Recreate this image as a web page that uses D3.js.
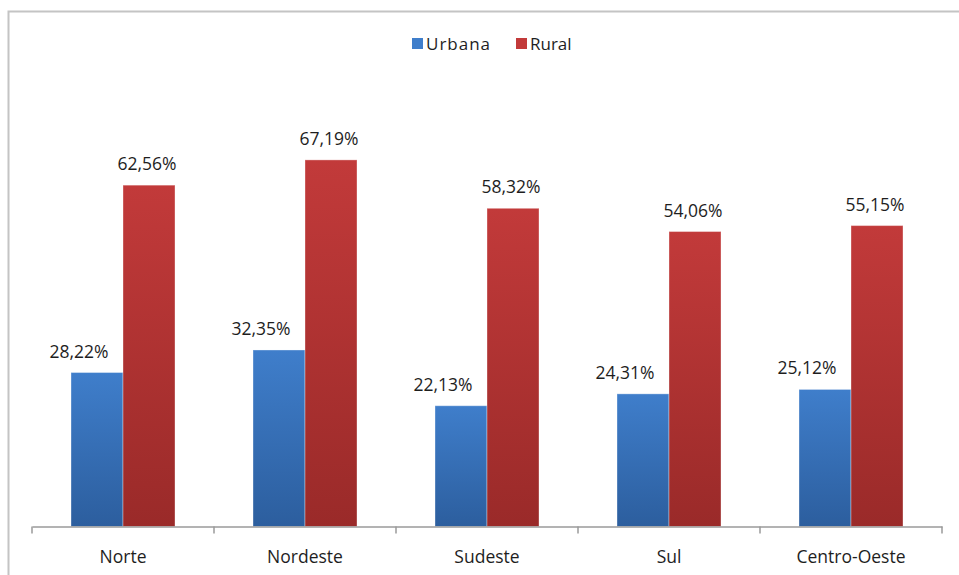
<!DOCTYPE html>
<html>
<head>
<meta charset="utf-8">
<script src="https://cdn.jsdelivr.net/npm/d3@7/dist/d3.min.js"></script>
<style>
  body { margin: 0; background: #fff; }
  text { font-family: "Open Sans", sans-serif; fill: #1e1e1e; }
</style>
</head>
<body>
<div id="chart"></div>
<script>
'use strict';

var categories = ['Norte', 'Nordeste', 'Sudeste', 'Sul', 'Centro-Oeste'];
var seriesNames = ['Urbana', 'Rural'];
var urbana = [28.22, 32.35, 22.13, 24.31, 25.12];
var rural = [62.56, 67.19, 58.32, 54.06, 55.15];

var width = 959, height = 575;
var margin = {top: 90, right: 17, bottom: 48.5, left: 32};
var innerW = width - margin.left - margin.right;
var innerH = height - margin.top - margin.bottom;

var colors = {
  Urbana: {top: '#3f7ecb', bottom: '#2c5e9e'},
  Rural: {top: '#c23a3a', bottom: '#9a2a29'}
};
// labels in the source sit a little left of their bars
var labelShift = {Urbana: -18, Rural: -2};

var svg = d3.select('#chart').append('svg')
  .attr('width', width)
  .attr('height', height);

// outer frame (partly cut by the picture edge)
svg.append('rect')
  .attr('x', 8.5).attr('y', 11.5)
  .attr('width', 970).attr('height', 600)
  .attr('fill', 'none')
  .attr('stroke', '#c4c4c4')
  .attr('stroke-width', 2);

var defs = svg.append('defs');
seriesNames.forEach(function(name) {
  var g = defs.append('linearGradient')
    .attr('id', 'grad-' + name)
    .attr('x1', 0).attr('y1', 0).attr('x2', 0).attr('y2', 1);
  g.append('stop').attr('offset', '0%').attr('stop-color', colors[name].top);
  g.append('stop').attr('offset', '100%').attr('stop-color', colors[name].bottom);
});

var g = svg.append('g')
  .attr('transform', 'translate(' + margin.left + ',' + margin.top + ')');

var x0 = d3.scaleBand().domain(categories).range([0, innerW]).paddingInner(0).paddingOuter(0);
var x1 = d3.scaleBand().domain(seriesNames).range([0, 104])
  .padding(0);
var y = d3.scaleLinear().domain([0, 80]).range([innerH, 0]);

var rows = categories.map(function(c, i) {
  return {cat: c, values: [
    {name: 'Urbana', value: urbana[i]},
    {name: 'Rural', value: rural[i]}
  ]};
});

var groupOffset = (x0.bandwidth() - 104) / 2;

var groups = g.selectAll('.group')
  .data(rows)
  .enter().append('g')
  .attr('class', 'group')
  .attr('transform', function(d) { return 'translate(' + (x0(d.cat) + groupOffset) + ',0)'; });

groups.selectAll('rect')
  .data(function(d) { return d.values; })
  .enter().append('rect')
  .attr('x', function(d) { return x1(d.name); })
  .attr('y', function(d) { return y(d.value); })
  .attr('width', x1.bandwidth())
  .attr('height', function(d) { return innerH - y(d.value); })
  .attr('fill', function(d) { return 'url(#grad-' + d.name + ')'; })
  .attr('stroke', 'rgba(255,255,255,0.35)')
  .attr('stroke-width', 1);

groups.selectAll('.label')
  .data(function(d) { return d.values; })
  .enter().append('text')
  .attr('class', 'label')
  .attr('x', function(d) { return x1(d.name) + x1.bandwidth() / 2 + labelShift[d.name]; })
  .attr('y', function(d) { return y(d.value) - 15; })
  .attr('text-anchor', 'middle')
  .style('font-size', '17.5px')
  .text(function(d) { return d.value.toFixed(2).replace('.', ',') + '%'; });

// category axis with ticks between groups
var xAxis = d3.axisBottom(x0).tickSize(0).tickPadding(24);
var axisG = g.append('g')
  .attr('transform', 'translate(0,' + innerH + ')')
  .call(xAxis);
axisG.select('.domain').attr('stroke', '#9a9a9a').attr('stroke-width', 1.5);
axisG.selectAll('text').style('font-size', '17.5px').style('font-family', '"Open Sans", sans-serif').attr('fill', '#1e1e1e');

var tickPos = categories.map(function(c) { return x0(c); }).concat([innerW]);
axisG.selectAll('.sep')
  .data(tickPos)
  .enter().append('line')
  .attr('class', 'sep')
  .attr('x1', function(d) { return d; })
  .attr('x2', function(d) { return d; })
  .attr('y1', 0).attr('y2', 7)
  .attr('stroke', '#9a9a9a')
  .attr('stroke-width', 1.5);

// legend
var legend = svg.append('g').attr('transform', 'translate(412,38)');
var legendX = {Urbana: 0, Rural: 104};
seriesNames.forEach(function(name) {
  var item = legend.append('g').attr('transform', 'translate(' + legendX[name] + ',0)');
  item.append('rect')
    .attr('width', 11).attr('height', 11)
    .attr('fill', colors[name].top);
  item.append('text')
    .attr('x', 14).attr('y', 12)
    .style('font-size', '17px')
    .style('letter-spacing', name === 'Urbana' ? '1px' : '0px')
    .text(name);
});
</script>
</body>
</html>
